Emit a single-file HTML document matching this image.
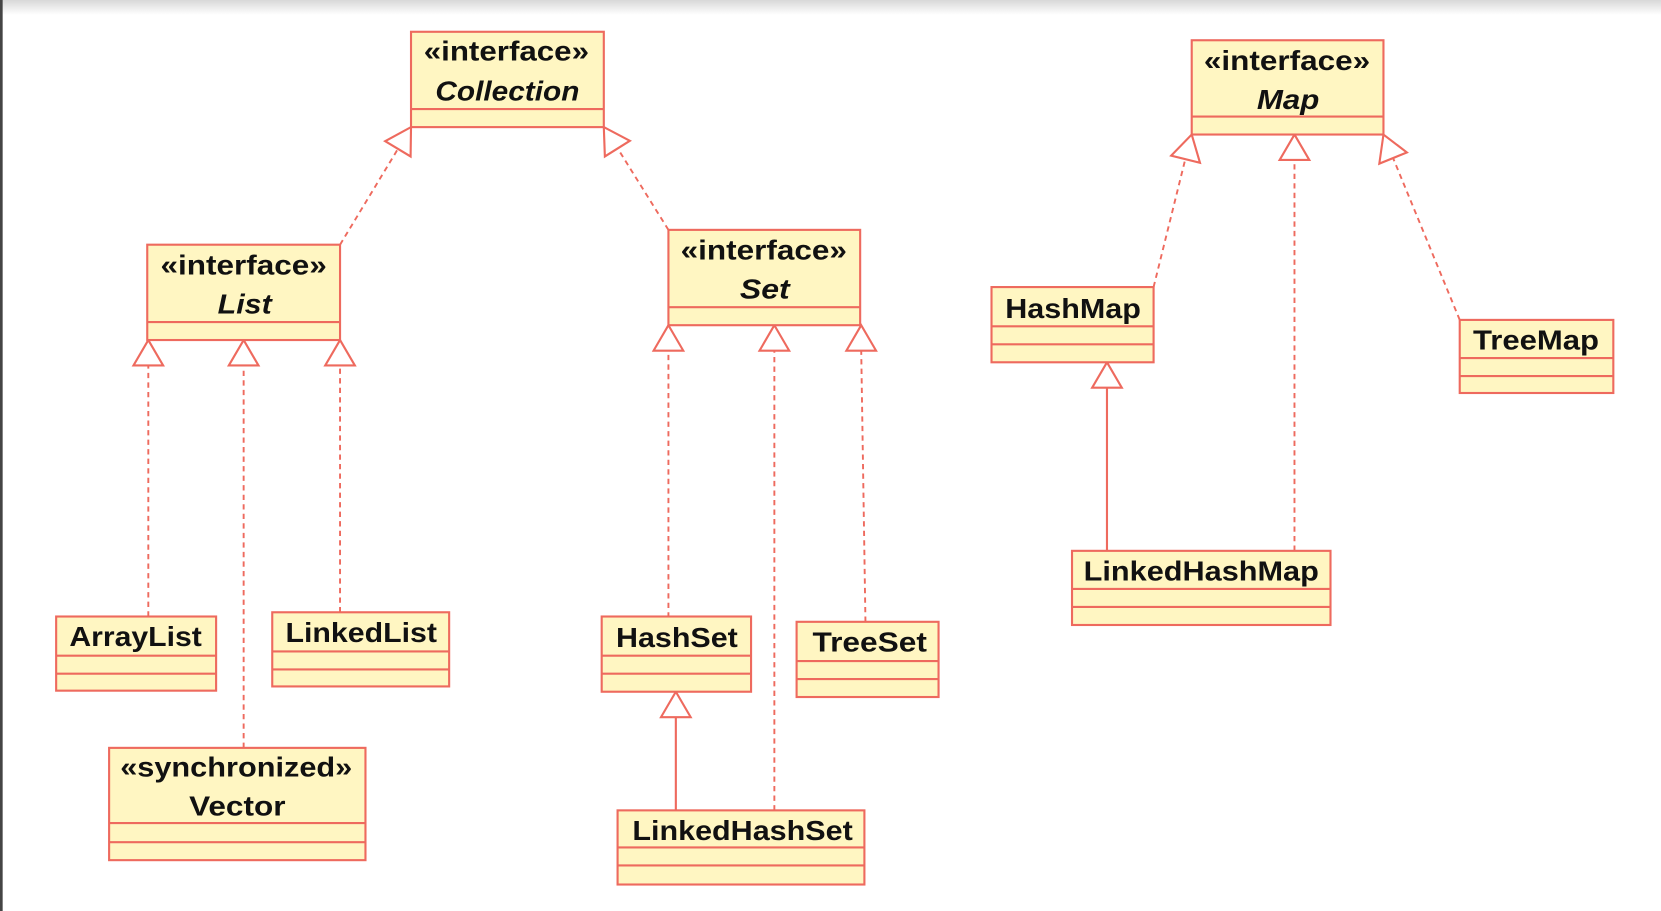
<!DOCTYPE html>
<html><head><meta charset="utf-8"><style>
html,body{margin:0;padding:0;background:#fff;width:1661px;height:911px;overflow:hidden}
svg{display:block}
text{font-family:"Liberation Sans",Arial,sans-serif;font-weight:bold;fill:#111;font-size:26px}
.b{fill:#fff6c2;stroke:#ee6a5e;stroke-width:2}
.l{stroke:#ee6a5e;stroke-width:2}
.d{stroke:#ee6a5e;stroke-width:1.8;stroke-dasharray:5,4;fill:none}
.s{stroke:#ee6a5e;stroke-width:2;fill:none}
.t{fill:#fff;stroke:#ee6a5e;stroke-width:2}
</style></head><body>
<svg width="1661" height="911" viewBox="0 0 1568 860" xmlns="http://www.w3.org/2000/svg">
<defs><linearGradient id="g" x1="0" y1="0" x2="0" y2="1"><stop offset="0" stop-color="#d8d8d8"/><stop offset="1" stop-color="#fff"/></linearGradient></defs>
<rect x="0" y="0" width="1568" height="14" fill="url(#g)"/>
<rect x="0" y="0" width="2.5" height="860" fill="#444"/>

<!-- connectors -->
<line class="d" x1="321" y1="231" x2="376" y2="140"/>
<line class="d" x1="631" y1="217" x2="583" y2="140"/>
<line class="d" x1="140" y1="582" x2="140" y2="345"/>
<line class="d" x1="230" y1="706" x2="230" y2="345"/>
<line class="d" x1="321" y1="578" x2="321" y2="345"/>
<line class="d" x1="631" y1="583" x2="631" y2="331"/>
<line class="d" x1="731" y1="765" x2="731" y2="331"/>
<line class="d" x1="817" y1="587" x2="813" y2="331"/>
<line class="s" x1="638" y1="765" x2="638" y2="677"/>
<line class="d" x1="1089" y1="271" x2="1119" y2="150"/>
<line class="d" x1="1222" y1="520" x2="1222" y2="151"/>
<line class="d" x1="1378" y1="302" x2="1315" y2="149"/>
<line class="s" x1="1045" y1="520" x2="1045" y2="366"/>

<!-- triangles -->
<polygon class="t" points="388,120 387.6,147.7 363.6,133.3"/>
<polygon class="t" points="570,120 594.6,132.9 571,147.7"/>
<polygon class="t" points="140,321 126,345 154,345"/>
<polygon class="t" points="230,321 216,345 244,345"/>
<polygon class="t" points="321,321 307,345 335,345"/>
<polygon class="t" points="631,307 617,331 645,331"/>
<polygon class="t" points="731,307 717,331 745,331"/>
<polygon class="t" points="813,307 799,331 827,331"/>
<polygon class="t" points="638,653 624,677 652,677"/>
<polygon class="t" points="1125,127 1132.8,153.7 1105.6,146.9"/>
<polygon class="t" points="1222,127 1208,151 1236,151"/>
<polygon class="t" points="1306,127 1328.1,143.9 1302.1,154.5"/>
<polygon class="t" points="1045,342 1031,366 1059,366"/>

<!-- Collection -->
<rect class="b" x="388" y="30" width="182" height="90"/>
<line class="l" x1="388" y1="103" x2="570" y2="103"/>
<text x="478" y="57" text-anchor="middle" textLength="156" lengthAdjust="spacingAndGlyphs">«interface»</text>
<text x="479" y="95" text-anchor="middle" font-style="italic" textLength="136" lengthAdjust="spacingAndGlyphs">Collection</text>

<!-- List -->
<rect class="b" x="139" y="231" width="182" height="90"/>
<line class="l" x1="139" y1="304" x2="321" y2="304"/>
<text x="230" y="259" text-anchor="middle" textLength="157" lengthAdjust="spacingAndGlyphs">«interface»</text>
<text x="231" y="296" text-anchor="middle" font-style="italic" textLength="51" lengthAdjust="spacingAndGlyphs">List</text>

<!-- Set -->
<rect class="b" x="631" y="217" width="181" height="90"/>
<line class="l" x1="631" y1="290" x2="812" y2="290"/>
<text x="721" y="245" text-anchor="middle" textLength="157" lengthAdjust="spacingAndGlyphs">«interface»</text>
<text x="722" y="282" text-anchor="middle" font-style="italic" textLength="47" lengthAdjust="spacingAndGlyphs">Set</text>

<!-- Map -->
<rect class="b" x="1125" y="38" width="181" height="89"/>
<line class="l" x1="1125" y1="110" x2="1306" y2="110"/>
<text x="1215" y="66" text-anchor="middle" textLength="157" lengthAdjust="spacingAndGlyphs">«interface»</text>
<text x="1216" y="103" text-anchor="middle" font-style="italic" textLength="59" lengthAdjust="spacingAndGlyphs">Map</text>

<!-- ArrayList -->
<rect class="b" x="53" y="582" width="151" height="70"/>
<line class="l" x1="53" y1="619" x2="204" y2="619"/><line class="l" x1="53" y1="636" x2="204" y2="636"/>
<text x="128" y="610" text-anchor="middle" textLength="125" lengthAdjust="spacingAndGlyphs">ArrayList</text>

<!-- LinkedList -->
<rect class="b" x="257" y="578" width="167" height="70"/>
<line class="l" x1="257" y1="615" x2="424" y2="615"/><line class="l" x1="257" y1="632" x2="424" y2="632"/>
<text x="341" y="606" text-anchor="middle" textLength="143" lengthAdjust="spacingAndGlyphs">LinkedList</text>

<!-- Vector -->
<rect class="b" x="103" y="706" width="242" height="106"/>
<line class="l" x1="103" y1="777" x2="345" y2="777"/><line class="l" x1="103" y1="795" x2="345" y2="795"/>
<text x="223" y="733" text-anchor="middle" textLength="219" lengthAdjust="spacingAndGlyphs">«synchronized»</text>
<text x="224" y="770" text-anchor="middle" textLength="91" lengthAdjust="spacingAndGlyphs">Vector</text>

<!-- HashSet -->
<rect class="b" x="568" y="582" width="141" height="71"/>
<line class="l" x1="568" y1="619" x2="709" y2="619"/><line class="l" x1="568" y1="636" x2="709" y2="636"/>
<text x="639" y="611" text-anchor="middle" textLength="115" lengthAdjust="spacingAndGlyphs">HashSet</text>

<!-- TreeSet -->
<rect class="b" x="752" y="587" width="134" height="71"/>
<line class="l" x1="752" y1="624" x2="886" y2="624"/><line class="l" x1="752" y1="641" x2="886" y2="641"/>
<text x="821" y="615" text-anchor="middle" textLength="108" lengthAdjust="spacingAndGlyphs">TreeSet</text>

<!-- LinkedHashSet -->
<rect class="b" x="583" y="765" width="233" height="70"/>
<line class="l" x1="583" y1="800" x2="816" y2="800"/><line class="l" x1="583" y1="817" x2="816" y2="817"/>
<text x="701" y="793" text-anchor="middle" textLength="208" lengthAdjust="spacingAndGlyphs">LinkedHashSet</text>

<!-- HashMap -->
<rect class="b" x="936" y="271" width="153" height="71"/>
<line class="l" x1="936" y1="308" x2="1089" y2="308"/><line class="l" x1="936" y1="325" x2="1089" y2="325"/>
<text x="1013" y="300" text-anchor="middle" textLength="128" lengthAdjust="spacingAndGlyphs">HashMap</text>

<!-- LinkedHashMap -->
<rect class="b" x="1012" y="520" width="244" height="70"/>
<line class="l" x1="1012" y1="556" x2="1256" y2="556"/><line class="l" x1="1012" y1="573" x2="1256" y2="573"/>
<text x="1134" y="548" text-anchor="middle" textLength="222" lengthAdjust="spacingAndGlyphs">LinkedHashMap</text>

<!-- TreeMap -->
<rect class="b" x="1378" y="302" width="145" height="69"/>
<line class="l" x1="1378" y1="338" x2="1523" y2="338"/><line class="l" x1="1378" y1="355" x2="1523" y2="355"/>
<text x="1450" y="330" text-anchor="middle" textLength="119" lengthAdjust="spacingAndGlyphs">TreeMap</text>
</svg>
</body></html>
